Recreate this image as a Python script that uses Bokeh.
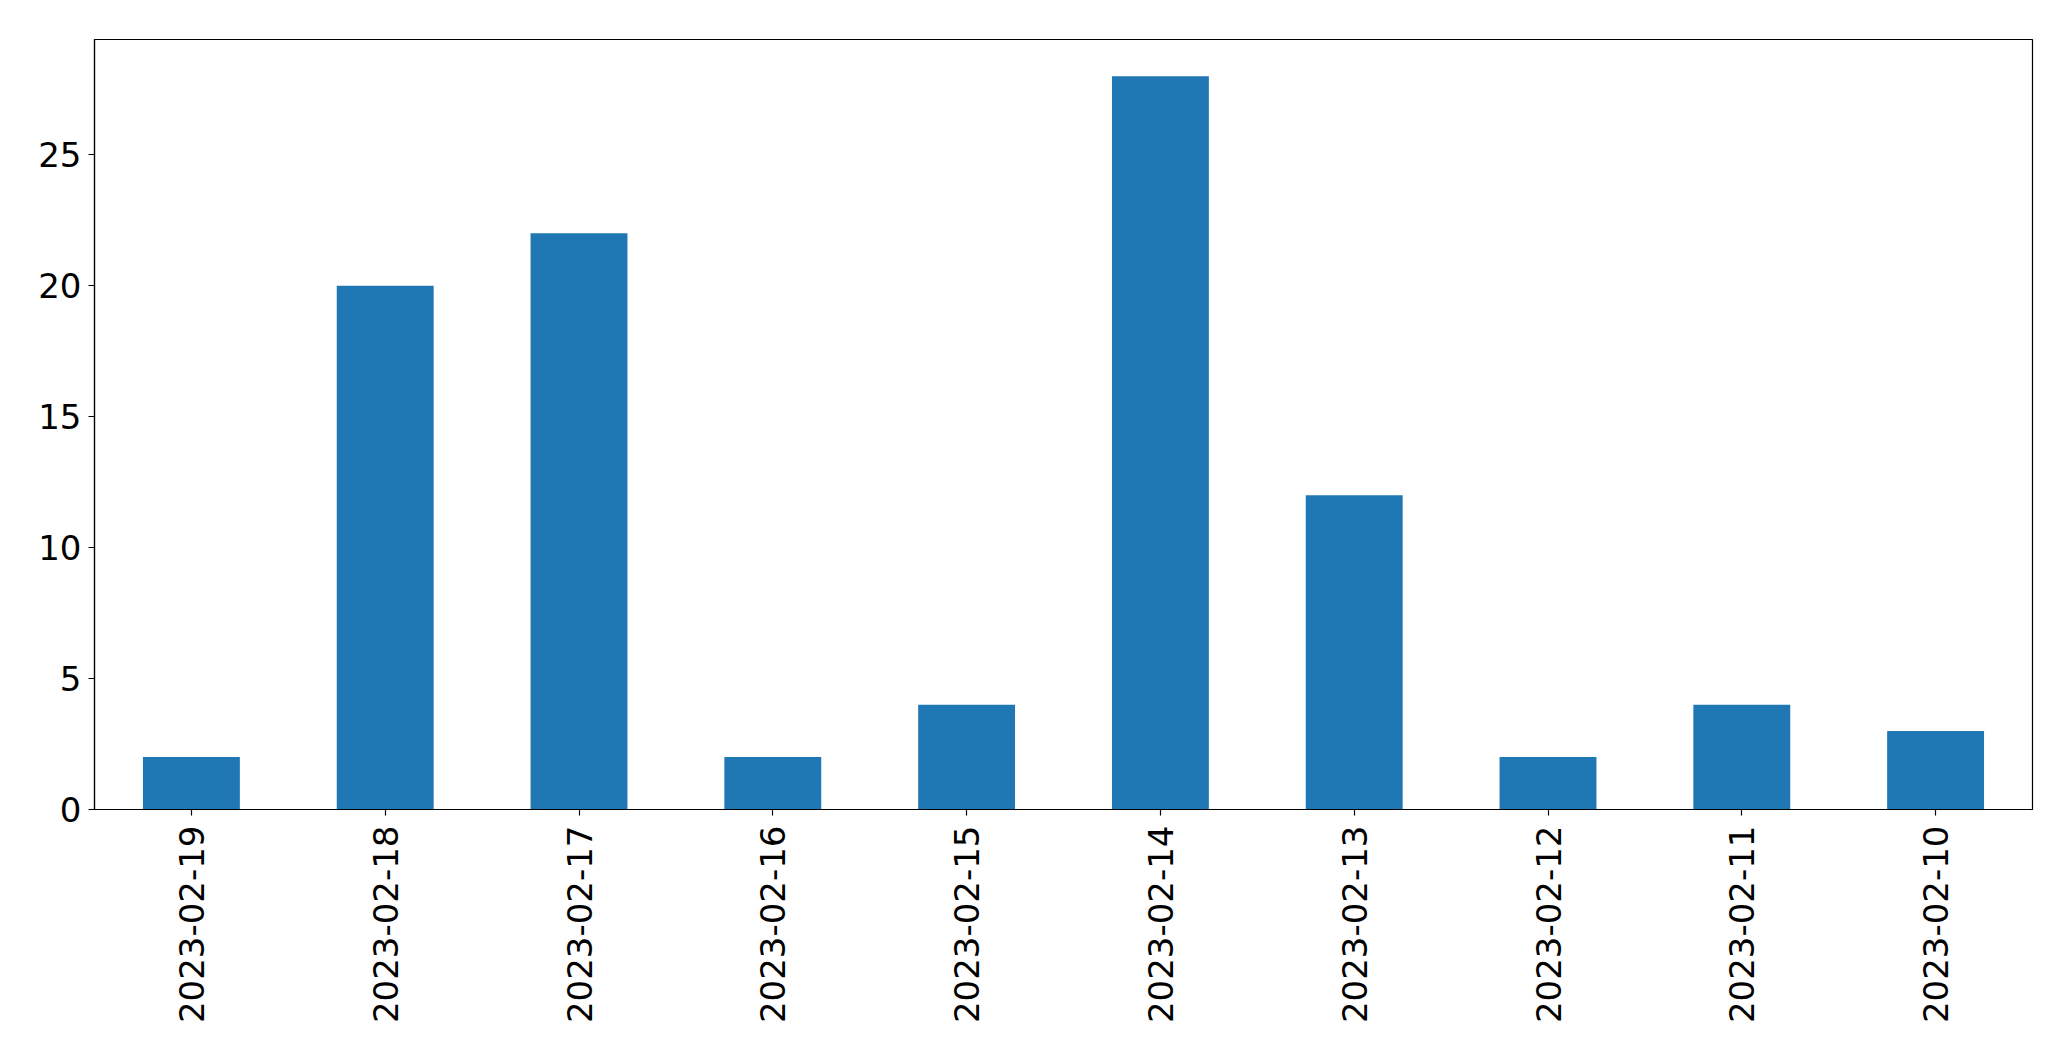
import math
from bokeh.plotting import figure
from bokeh.models import Range1d, FactorRange, SingleIntervalTicker
from bokeh.embed import file_html
from bokeh.resources import INLINE

dates = ["2023-02-19", "2023-02-18", "2023-02-17", "2023-02-16", "2023-02-15",
         "2023-02-14", "2023-02-13", "2023-02-12", "2023-02-11", "2023-02-10"]
counts = [2, 20, 22, 2, 4, 28, 12, 2, 4, 3]

p = figure(width=2063, height=1053, output_backend="svg", toolbar_location=None,
           x_range=FactorRange(factors=dates, range_padding=0),
           y_range=Range1d(0, max(counts) * 1.05),
           min_border_left=94, min_border_right=31, min_border_top=39, min_border_bottom=244)

p.vbar(x=dates, top=counts, width=0.5, color="#1f77b4", line_color=None)

p.xgrid.visible = False
p.ygrid.visible = False
p.outline_line_color = "black"
p.outline_line_width = 1.2
p.background_fill_color = "white"
p.border_fill_color = "white"

p.yaxis.ticker = SingleIntervalTicker(interval=5)
for ax in (p.xaxis, p.yaxis):
    ax.axis_line_color = "black"
    ax.axis_line_width = 1.2
    ax.major_tick_line_color = "black"
    ax.major_tick_line_width = 1.2
    ax.major_tick_in = 0
    ax.major_tick_out = 6
    ax.minor_tick_line_color = None
    ax.major_label_text_font = "DejaVu Sans"
    ax.major_label_text_font_size = "34px"
    ax.major_label_text_color = "black"

p.yaxis.major_label_standoff = 7
p.xaxis.major_label_standoff = 10
p.xaxis.major_label_orientation = math.pi / 2

open("out.html", "w").write(file_html(p, INLINE))
